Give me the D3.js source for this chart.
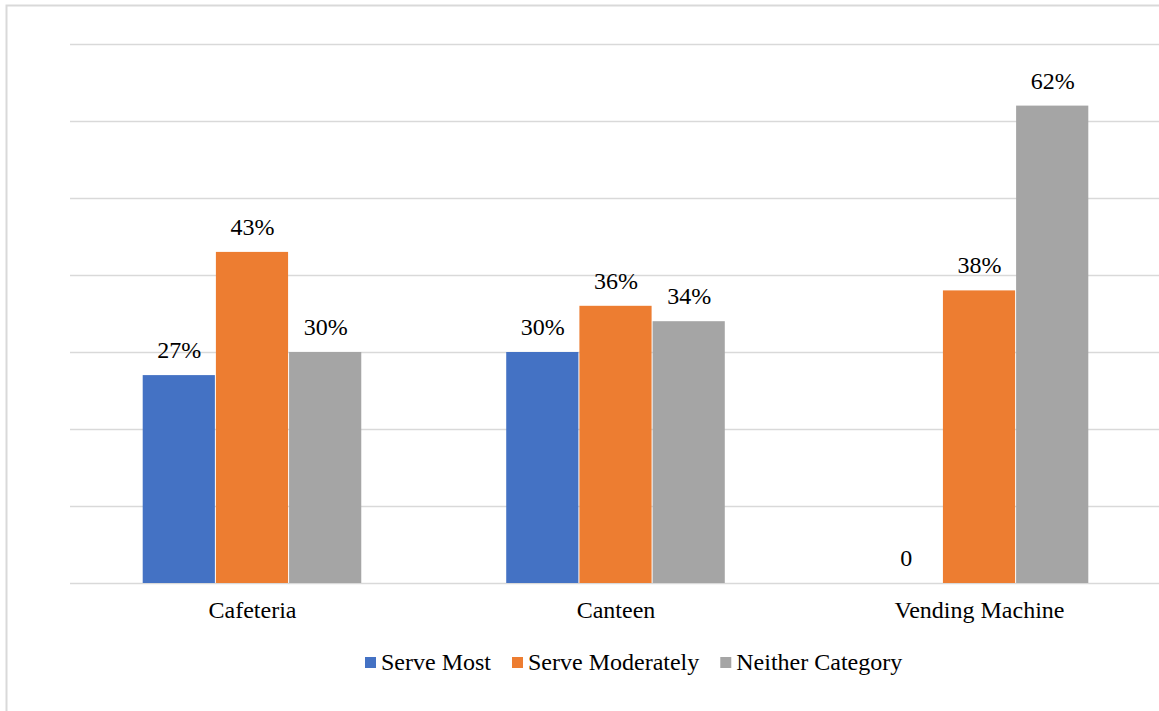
<!DOCTYPE html>
<html>
<head>
<meta charset="utf-8">
<script src="https://cdn.jsdelivr.net/npm/d3@7"></script>
<style>
  html, body { margin: 0; padding: 0; background: #fff; }
  svg { display: block; }
  svg text { font-family: "Liberation Serif", "Times New Roman", Tinos, serif; fill: #000; }
</style>
</head>
<body>
<svg id="chart" width="1159" height="711"></svg>
<script>
// Venues and the share of each serving category (percent)
const categories = ["Cafeteria", "Canteen", "Vending Machine"];
const seriesNames = ["Serve Most", "Serve Moderately", "Neither Category"];
const serveMost = [27, 30, 0];
const serveModerately = [43, 36, 38];
const neitherCategory = [30, 34, 62];
const yTicks = [0, 10, 20, 30, 40, 50, 60, 70];
const colors = ["#4472C4", "#ED7D31", "#A5A5A5"];

const seriesValues = [serveMost, serveModerately, neitherCategory];
const FONT = "\"Liberation Serif\", \"Times New Roman\", Tinos, serif";

const svg = d3.select("#chart");
const W = 1159;
const plot = { left: 70, right: 1162, top: 44, bottom: 583 };

// outer chart frame
svg.append("rect")
  .attr("x", 6.5).attr("y", 5.5)
  .attr("width", 1180).attr("height", 730)
  .attr("fill", "none")
  .attr("stroke", "#d9d9d9")
  .attr("stroke-width", 2);

const y = d3.scaleLinear().domain([0, 70]).range([plot.bottom, plot.top]);

const x0 = d3.scaleBand()
  .domain(categories)
  .range([plot.left, plot.right])
  .paddingInner(0.396)
  .paddingOuter(0.2);

const x1 = d3.scaleBand()
  .domain(seriesNames)
  .range([0, x0.bandwidth()])
  .padding(0);

// horizontal gridlines
svg.append("g")
  .selectAll("line")
  .data(yTicks)
  .join("line")
  .attr("x1", plot.left)
  .attr("x2", W)
  .attr("y1", d => Math.round(y(d)) + 0.5)
  .attr("y2", d => Math.round(y(d)) + 0.5)
  .attr("stroke", "#d9d9d9")
  .attr("stroke-width", 1.5);

// bars
const rows = [];
categories.forEach((c, i) => {
  seriesNames.forEach((s, j) => {
    rows.push({ category: c, series: s, value: seriesValues[j][i], color: colors[j] });
  });
});

svg.append("g")
  .selectAll("rect")
  .data(rows)
  .join("rect")
  .attr("x", d => x0(d.category) + x1(d.series))
  .attr("y", d => y(d.value))
  .attr("width", x1.bandwidth() - 1)
  .attr("height", d => y(0) - y(d.value))
  .attr("fill", d => d.color);

// value labels
svg.append("g")
  .selectAll("text")
  .data(rows)
  .join("text")
  .attr("x", d => x0(d.category) + x1(d.series) + x1.bandwidth() / 2)
  .attr("y", d => y(d.value) - 17)
  .attr("text-anchor", "middle")
  .style("font-family", FONT)
  .style("font-size", "24px")
  .text(d => d.value === 0 ? "0" : d.value + "%");

// category axis labels
const xAxis = d3.axisBottom(x0).tickSize(0).tickPadding(0);
const gx = svg.append("g")
  .attr("transform", `translate(0,${plot.bottom})`)
  .call(xAxis)
  .attr("font-family", null)
  .attr("font-size", null);
gx.select(".domain").remove();
gx.selectAll("text")
  .style("font-family", FONT)
  .style("font-size", "24px")
  .attr("fill", "#000")
  .attr("dy", null)
  .attr("y", 35);

// legend
const legend = svg.append("g");
let lx = 365;
seriesNames.forEach((name, i) => {
  legend.append("rect")
    .attr("x", lx).attr("y", 657)
    .attr("width", 11).attr("height", 11)
    .attr("fill", colors[i]);
  const t = legend.append("text")
    .attr("x", lx + 16).attr("y", 670)
    .style("font-family", FONT)
    .style("font-size", "24px")
    .text(name);
  lx += 16 + t.node().getComputedTextLength() + 21;
});
</script>
</body>
</html>
